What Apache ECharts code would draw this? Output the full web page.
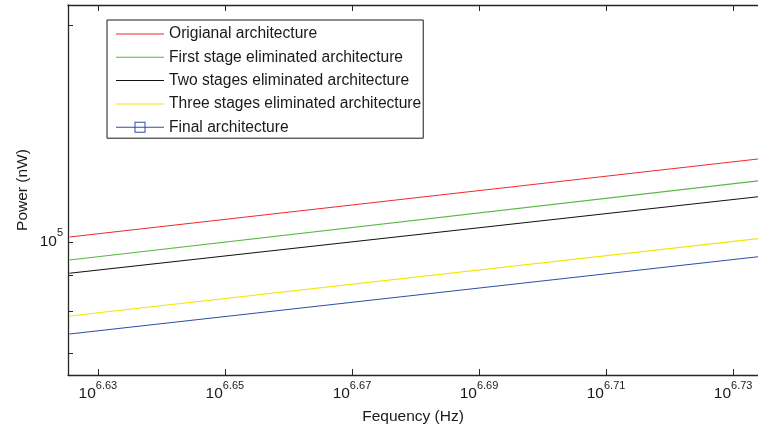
<!DOCTYPE html>
<html>
<head>
<meta charset="utf-8">
<title>Power vs frequency</title>
<script src="https://cdn.jsdelivr.net/npm/echarts@6/dist/echarts.min.js"></script>
<style>
  html, body { margin: 0; padding: 0; background: #fff; }
  #chart { width: 758px; height: 430px; }
</style>
</head>
<body>
<div id="chart"></div>
<script>
// Series names, as listed in the legend
const seriesNames = [
  'Origianal architecture',
  'First stage eliminated architecture',
  'Two stages eliminated architecture',
  'Three stages eliminated architecture',
  'Final architecture'
];
const seriesColors = ['#ee2a2a', '#5ab548', '#111111', '#f2e600', '#2d4fa4'];

// Frequency sweep end points (Hz)
const freqHz = [4.222e6, 5.42e6];

// Power (nW) at each sweep point
const powerOriginal = [101600, 130400];
const powerFirstStage = [94400, 121600];
const powerTwoStages = [90500, 115600];
const powerThreeStages = [78900, 101100];
const powerFinal = [74500, 95400];

// Axis ranges and tick positions
const xExpMin = 6.6253, xExpMax = 6.73392;
const yMin = 65345, yMax = 213400;
const xTickExps = [6.63, 6.65, 6.67, 6.69, 6.71, 6.73];
const yTickValues = [70000, 80000, 90000, 100000, 200000];
const yLabelValues = [100000];
const yLabelExp = { 100000: '5' };

const powerSets = [powerOriginal, powerFirstStage, powerTwoStages, powerThreeStages, powerFinal];
const xTickValues = xTickExps.map(e => Math.pow(10, e));

const FONT = '"Liberation Sans", Arial, Helvetica, sans-serif';
const AXIS_COLOR = '#262626';

const lineIcon = 'path://M0,6.5h48v1h-48z';
const lineSquareIcon = 'path://M0,6.5h48v1h-48z M18.5,1.5h11v11h-11z M19.5,2.5v9h9v-9z';

const chart = echarts.init(document.getElementById('chart'), null, { renderer: 'canvas' });

const expRich = {
  b: { fontSize: 15.5, fontFamily: FONT, color: '#1a1a1a' },
  s: { fontSize: 11, fontFamily: FONT, color: '#1a1a1a', padding: [0, 0, 16, 0] }
};
const yRich = {
  b: { fontSize: 15.5, fontFamily: FONT, color: '#1a1a1a' },
  s: { fontSize: 11, fontFamily: FONT, color: '#1a1a1a', padding: [0, 0, 18, 0] }
};

const option = {
  animation: false,
  backgroundColor: '#ffffff',
  grid: { left: 68, right: -3, top: 5, bottom: 55 },
  legend: {
    orient: 'vertical',
    left: 107,
    top: 20,
    itemWidth: 48,
    itemHeight: 14,
    itemGap: 7.3,
    padding: [6, 2, 3, 9],
    backgroundColor: '#ffffff',
    borderColor: '#1a1a1a',
    borderWidth: 1,
    borderRadius: 0,
    selectedMode: false,
    itemStyle: { borderWidth: 0 },
    textStyle: { fontSize: 15.6, fontFamily: FONT, color: '#1a1a1a' },
    data: seriesNames.map((n, i) => ({
      name: n,
      icon: i === seriesNames.length - 1 ? lineSquareIcon : lineIcon
    }))
  },
  xAxis: [
    {
      type: 'log',
      logBase: 10,
      position: 'bottom',
      min: Math.pow(10, xExpMin),
      max: Math.pow(10, xExpMax),
      name: 'Fequency (Hz)',
      nameLocation: 'middle',
      nameGap: 34,
      nameMoveOverlap: false,
      nameTextStyle: { fontSize: 15.5, fontFamily: FONT, color: '#1a1a1a' },
      axisLine: { show: true, onZero: false, lineStyle: { color: AXIS_COLOR, width: 1.3 } },
      axisTick: { show: true, inside: true, length: 6, customValues: xTickValues, lineStyle: { color: AXIS_COLOR } },
      minorTick: { show: false },
      splitLine: { show: false },
      axisLabel: {
        show: true,
        margin: 5.5,
        customValues: xTickValues,
        formatter: v => '{b|10}{s|' + Math.log10(v).toFixed(2) + '}',
        rich: expRich
      }
    },
    {
      type: 'log',
      logBase: 10,
      position: 'top',
      min: Math.pow(10, xExpMin),
      max: Math.pow(10, xExpMax),
      axisLine: { show: true, onZero: false, lineStyle: { color: AXIS_COLOR, width: 1.3 } },
      axisTick: { show: true, inside: true, length: 6, customValues: xTickValues, lineStyle: { color: AXIS_COLOR } },
      minorTick: { show: false },
      splitLine: { show: false },
      axisLabel: { show: false }
    }
  ],
  yAxis: [
    {
      type: 'log',
      logBase: 10,
      position: 'left',
      min: yMin,
      max: yMax,
      name: 'Power (nW)',
      nameLocation: 'middle',
      nameGap: 37,
      nameMoveOverlap: false,
      nameTextStyle: { fontSize: 15.5, fontFamily: FONT, color: '#1a1a1a' },
      axisLine: { show: true, onZero: false, lineStyle: { color: AXIS_COLOR, width: 1.3 } },
      axisTick: { show: true, inside: true, length: 5, customValues: yTickValues, lineStyle: { color: AXIS_COLOR } },
      minorTick: { show: false },
      splitLine: { show: false },
      axisLabel: {
        show: true,
        margin: 5,
        customValues: yLabelValues,
        formatter: v => '{b|10}{s|' + (yLabelExp[Math.round(v)] || '') + '}',
        rich: yRich
      }
    }
  ],
  series: seriesNames.map((name, i) => ({
    name: name,
    type: 'line',
    xAxisIndex: 0,
    yAxisIndex: 0,
    symbol: 'none',
    showSymbol: false,
    silent: true,
    clip: true,
    color: seriesColors[i],
    lineStyle: { color: seriesColors[i], width: 1.1 },
    data: freqHz.map((f, k) => [f, powerSets[i][k]])
  }))
};

chart.setOption(option);
</script>
</body>
</html>
